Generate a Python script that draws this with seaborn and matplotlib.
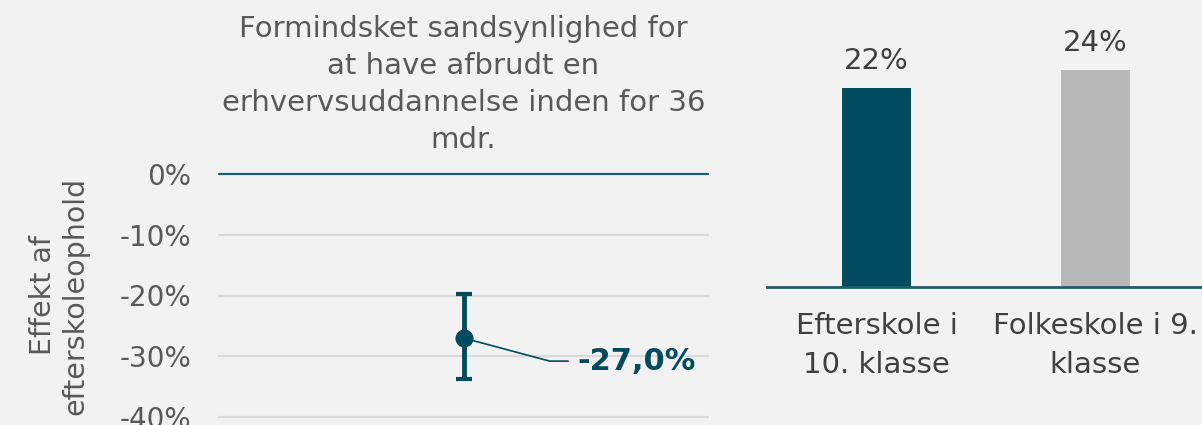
import matplotlib
matplotlib.use("Agg")
import matplotlib.pyplot as plt
import seaborn as sns
import pandas as pd
from matplotlib.ticker import FuncFormatter

# data
effect_label = ["Effekt"]
effect_est = [-0.270]
effect_lo = [-0.338]
effect_hi = [-0.197]
yticks_left = [0.0, -0.1, -0.2, -0.3, -0.4]

groups = ["Efterskole i\n10. klasse", "Folkeskole i 9.\nklasse"]
shares = [0.22, 0.24]

title = "Formindsket sandsynlighed for\nat have afbrudt en\nerhvervsuddannelse inden for 36\nmdr."
ylabel = "Effekt af\nefterskoleophold"

TEAL = "#004b5f"
LINE = "#1f5c70"
GREY_BAR = "#b8b8b8"
BG = "#f2f2f2"

sns.set_style("white", {"axes.facecolor": BG, "figure.facecolor": BG})
plt.rcParams["font.family"] = ["DejaVu Sans"]

fig = plt.figure(figsize=(12.02, 4.25), dpi=100)
W, H = 1202, 425

# ---- left panel: effect estimate with interval
ax1 = fig.add_axes([219 / W, 1 - 417 / H, 489 / W, 243 / H])
df_eff = pd.DataFrame({"lab": effect_label, "est": effect_est,
                       "lo": effect_lo, "hi": effect_hi})
err = [df_eff.est - df_eff.lo, df_eff.hi - df_eff.est]
ax1.errorbar(range(len(df_eff)), df_eff.est, yerr=err, fmt="none",
             ecolor=TEAL, elinewidth=3.5, capsize=6, capthick=3, zorder=3)
sns.pointplot(data=df_eff, x="lab", y="est", errorbar=None, color=TEAL,
              markersize=11, ax=ax1, zorder=4)
ax1.set_xlim(-0.5, 0.5)
ax1.set_ylim(-0.4, 0.0)
ax1.set_yticks(yticks_left)
ax1.yaxis.set_major_formatter(FuncFormatter(lambda v, p: f"{v * 100:.0f}%"))
for t in yticks_left:
    ax1.axhline(t, color=LINE if t == 0 else "#d9d9d9",
                lw=1.6, zorder=1, clip_on=False)
ax1.set_xticks([])
ax1.set_xlabel("")
ax1.tick_params(axis="y", length=0, pad=20, labelsize=20, labelcolor="#595959")
for s in ax1.spines.values():
    s.set_visible(False)
ax1.set_ylabel(ylabel, fontsize=20.5, color="#595959", labelpad=22, linespacing=1.2)
ax1.set_title(title, fontsize=21, color="#595959", linespacing=1.4, pad=19)

est = df_eff.est[0]
ax1.annotate(f"{est * 100:.1f}%".replace(".", ","),
             xy=(0, est), xytext=(0.232, est - 0.038),
             ha="left", va="center", fontsize=22, fontweight="bold", color=TEAL,
             arrowprops=dict(arrowstyle="-", color=TEAL, lw=1.2,
                             connectionstyle="angle,angleA=0,angleB=-15",
                             relpos=(0, 0.5), shrinkA=4, shrinkB=0))

# ---- right panel: bars
ax2 = fig.add_axes([767 / W, 1 - 287 / H, 438 / W, 267 / H])
df_bar = pd.DataFrame({"group": groups, "share": shares})
sns.barplot(data=df_bar, x="group", y="share", hue="group",
            palette=[TEAL, GREY_BAR], width=0.315, legend=False, ax=ax2,
            saturation=1, linewidth=0)
ax2.set_xlim(-0.5, 1.5)
ax2.set_ylim(0, 0.295)
for c in ax2.containers:
    ax2.bar_label(c, labels=[f"{v * 100:.0f}%" for v in c.datavalues],
                  padding=9, fontsize=21, color="#404040")
for s in ["top", "right", "left"]:
    ax2.spines[s].set_visible(False)
ax2.spines["bottom"].set_color(LINE)
ax2.spines["bottom"].set_linewidth(2)
ax2.set_yticks([])
ax2.set_xlabel("")
ax2.set_ylabel("")
ax2.tick_params(axis="x", length=0, pad=18, labelsize=21, labelcolor="#404040")
for lbl in ax2.get_xticklabels():
    lbl.set_linespacing(1.5)

fig.savefig("out.png", dpi=100, facecolor=BG)
